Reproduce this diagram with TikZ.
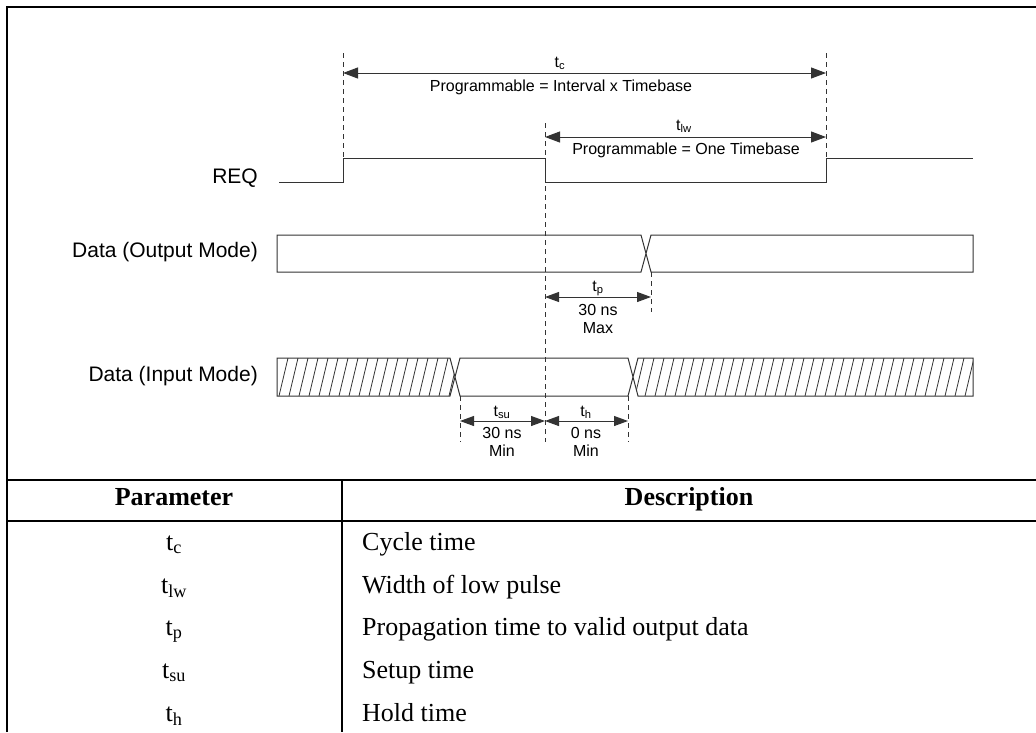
\documentclass[tikz,border=0pt]{standalone}
\usepackage{fontspec}
\setmainfont{Liberation Serif}
\setsansfont{Liberation Sans}
\usetikzlibrary{arrows.meta,positioning}

\tikzset{
  wave/.style={line width=1pt, black!80},
  hatch/.style={line width=0.8pt, black!80},
  guide/.style={line width=1pt, black!80, dash pattern=on 5pt off 4pt},
  span/.style={line width=1pt, black!80, {Triangle[length=15pt,width=11pt]}-{Triangle[length=15pt,width=11pt]}},
  shortspan/.style={line width=1pt, black!80, {Triangle[length=14pt,width=10pt]}-{Triangle[length=14pt,width=10pt]}},
  signame/.style={font=\sffamily\fontsize{21}{24}\selectfont, anchor=base east, inner sep=0pt},
  note/.style={font=\sffamily\fontsize{16}{18}\selectfont, anchor=base, inner sep=0pt},
  cell/.style={font=\fontsize{26}{30}\selectfont, anchor=base, inner sep=0pt},
  headcell/.style={font=\bfseries\fontsize{26}{30}\selectfont, anchor=base, inner sep=0pt},
  tablerule/.style={line width=2pt},
}

\begin{document}
\begin{tikzpicture}[x=1pt,y=-1pt]
  \useasboundingbox (0,0) rectangle (1036,732);

  % frame and table
  \draw[tablerule] (7,732) -- (7,7) -- (1036,7);
  \draw[tablerule] (7,480) -- (1036,480);
  \draw[tablerule] (7,521) -- (1036,521);
  \draw[tablerule] (342,480) -- (342,732);

  \node[headcell] (param) at (174,505) {Parameter};
  \node[headcell] (descr) at (689,505) {Description};

  \foreach \y/\s/\d in {550/c/Cycle time, 593/lw/Width of low pulse,
      635/p/Propagation time to valid output data, 678/su/Setup time, 721/h/Hold time}
  {
    \node[cell] (par-\s) at (174,\y) {t\textsubscript{\s}};
    \node[cell,anchor=base west] (desc-\s) at (362,\y) {\d};
  }

  % REQ
  \node[signame] (req) at (258,183) {REQ};
  \draw[wave] (279,182) -- (343,182) -- (343,158) -- (545,158) -- (545,182)
    -- (826,182) -- (826,158) -- (973,158);

  \draw[guide] (343,53) -- (343,158);
  \draw[guide] (826,53) -- (826,158);
  \draw[guide] (545,123) -- (545,442);

  \draw[span] (343,73) -- (826,73);
  \node[note] (tc) at (560,67) {t\textsubscript{c}};
  \node[note] (tc-prog) at (561,91) {Programmable = Interval x Timebase};

  \draw[span] (545,137) -- (826,137);
  \node[note] (tlw) at (684,130) {t\textsubscript{lw}};
  \node[note] (tlw-prog) at (686,154) {Programmable = One Timebase};

  % output data
  \node[signame] (dout) at (258,257) {Data (Output Mode)};
  \draw[wave] (651,272) -- (641,235) -- (277,235) -- (277,272) -- (641,272)
    -- (651,235) -- (973,235) -- (973,272) -- cycle;

  \draw[guide] (651,272) -- (651,312);
  \draw[shortspan] (545,297) -- (651,297);
  \node[note] (tp) at (598,291) {t\textsubscript{p}};
  \node[note] (tp-val) at (598,315) {30 ns};
  \node[note] (tp-max) at (598,333) {Max};

  % input data
  \node[signame] (din) at (258,381) {Data (Input Mode)};
  \draw[wave] (277,358) -- (450,358) -- (460,396) -- (628,396) -- (638,358)
    -- (973,358) -- (973,396) -- (638,396) -- (628,358) -- (460,358)
    -- (450,396) -- (277,396) -- cycle;

  \begin{scope}
    \clip (277,358) -- (450,358) -- (455,377) -- (450,396) -- (277,396) -- cycle;
    \foreach \x in {279,289,...,459} \draw[hatch] (\x,396) -- ++(9,-38);
  \end{scope}
  \begin{scope}
    \clip (973,358) -- (638,358) -- (633,377) -- (638,396) -- (973,396) -- cycle;
    \foreach \x in {635,645,...,975} \draw[hatch] (\x,396) -- ++(9,-38);
  \end{scope}

  \draw[guide] (460,396) -- (460,442);
  \draw[guide] (628,396) -- (628,442);
  \draw[shortspan] (460,421) -- (545,421);
  \draw[shortspan] (545,421) -- (628,421);
  \node[note] (tsu) at (502,416) {t\textsubscript{su}};
  \node[note] (tsu-val) at (502,438) {30 ns};
  \node[note] (tsu-min) at (502,456) {Min};
  \node[note] (th) at (586,416) {t\textsubscript{h}};
  \node[note] (th-val) at (586,438) {0 ns};
  \node[note] (th-min) at (586,456) {Min};
\end{tikzpicture}
\end{document}
